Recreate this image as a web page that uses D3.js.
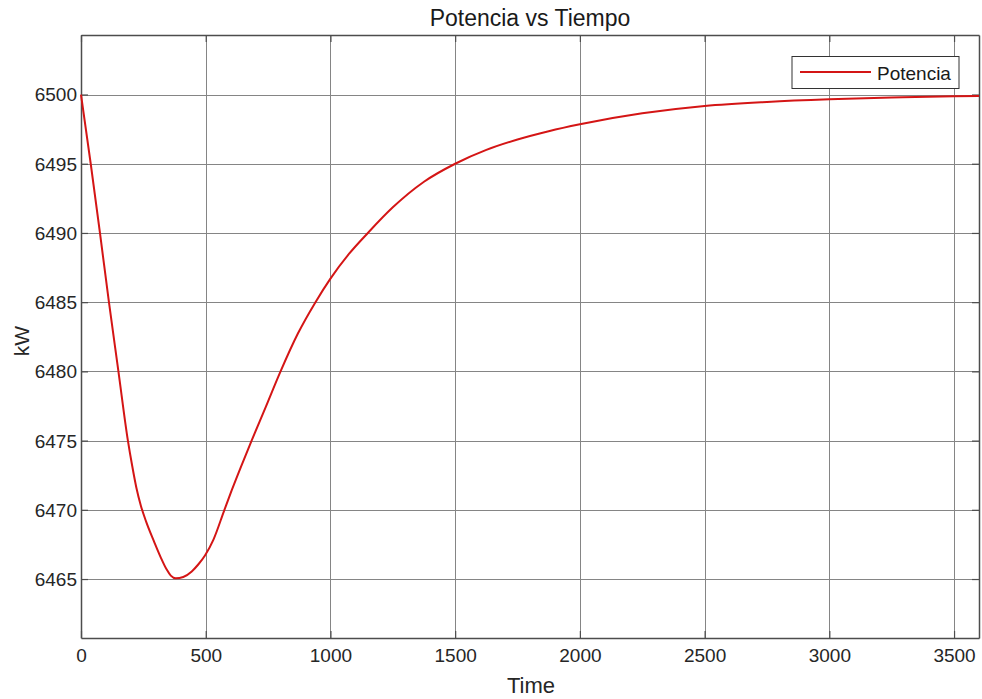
<!DOCTYPE html>
<html>
<head>
<meta charset="utf-8">
<script src="https://cdn.jsdelivr.net/npm/d3@7/dist/d3.min.js"></script>
<style>
  html, body { margin: 0; padding: 0; background: #fff; }
  svg { display: block; font-family: "Liberation Sans", Arial, Helvetica, sans-serif; }
</style>
</head>
<body>
<svg id="chart" width="982" height="699"></svg>
<script>
// Power response over time (kW)
const time = [0, 39, 76, 112, 150, 188, 205, 222, 240, 260, 293, 320, 343, 360, 380, 410, 444, 470, 497, 531, 575, 604, 640, 684, 740, 800, 870, 940, 1000, 1075, 1150, 1250, 1375, 1500, 1625, 1750, 1875, 2000, 2250, 2500, 2750, 3000, 3250, 3500, 3600];
const potencia = [6500, 6495, 6490, 6485, 6480, 6475, 6473.2, 6471.6, 6470.3, 6469.2, 6467.7, 6466.55, 6465.7, 6465.25, 6465.05, 6465.15, 6465.55, 6466.05, 6466.7, 6467.85, 6470, 6471.4, 6473.05, 6475, 6477.4, 6480, 6482.75, 6485, 6486.7, 6488.5, 6490, 6491.85, 6493.7, 6495, 6496, 6496.75, 6497.35, 6497.85, 6498.64, 6499.17, 6499.46, 6499.65, 6499.78, 6499.88, 6499.9];
const xTicks = [0, 500, 1000, 1500, 2000, 2500, 3000, 3500];
const yTicks = [6465, 6470, 6475, 6480, 6485, 6490, 6495, 6500];
const xDomain = [0, 3600];
const yDomain = [6460.74, 6504.3];

const svg = d3.select("#chart");
const m = { left: 81, right: 979, top: 35, bottom: 638 };

const x = d3.scaleLinear().domain(xDomain).range([m.left, m.right]);
const y = d3.scaleLinear().domain(yDomain).range([m.bottom, m.top]);

const axisColor = "#4d4d4d";
const textColor = "#262626";
const font = '"Liberation Sans", Arial, sans-serif';

// Grid
const grid = svg.append("g");
grid.selectAll("line.gx").data(xTicks).join("line")
  .attr("x1", d => Math.round(x(d)) + 0.5).attr("x2", d => Math.round(x(d)) + 0.5)
  .attr("y1", m.top).attr("y2", m.bottom)
  .attr("stroke", "#858585").attr("stroke-width", 1);
grid.selectAll("line.gy").data(yTicks).join("line")
  .attr("y1", d => Math.round(y(d)) + 0.5).attr("y2", d => Math.round(y(d)) + 0.5)
  .attr("x1", m.left).attr("x2", m.right)
  .attr("stroke", "#858585").attr("stroke-width", 1);

// Axes (ticks pointing inward, box on all sides)
const tickLen = 7;
const axB = svg.append("g").attr("transform", `translate(0,${m.bottom})`)
  .call(d3.axisBottom(x).tickValues(xTicks).tickSizeInner(-tickLen).tickSizeOuter(0).tickFormat(d3.format("d")));
const axT = svg.append("g").attr("transform", `translate(0,${m.top})`)
  .call(d3.axisTop(x).tickValues(xTicks).tickSizeInner(-tickLen).tickSizeOuter(0).tickFormat(""));
const axL = svg.append("g").attr("transform", `translate(${m.left},0)`)
  .call(d3.axisLeft(y).tickValues(yTicks).tickSizeInner(-tickLen).tickSizeOuter(0).tickFormat(d3.format("d")));
const axR = svg.append("g").attr("transform", `translate(${m.right},0)`)
  .call(d3.axisRight(y).tickValues(yTicks).tickSizeInner(-tickLen).tickSizeOuter(0).tickFormat(""));

[axB, axT, axL, axR].forEach(a => {
  a.select(".domain").attr("stroke", axisColor).attr("stroke-width", 1.5);
  a.selectAll(".tick line").attr("stroke", axisColor).attr("stroke-width", 1.2);
  a.selectAll(".tick text").attr("fill", textColor).attr("font-size", 19).attr("font-family", font);
});
axB.selectAll(".tick text").attr("y", 11).attr("dy", "0.71em");
axL.selectAll(".tick text").attr("x", -4).attr("dy", "0.34em");

// Data line
const line = d3.line()
  .x((d, i) => x(time[i]))
  .y(d => y(d))
  .curve(d3.curveMonotoneX);
svg.append("path")
  .datum(potencia)
  .attr("d", line)
  .attr("fill", "none")
  .attr("stroke", "#d41515")
  .attr("stroke-width", 2);

// Title and axis labels
svg.append("text")
  .attr("x", 530).attr("y", 26)
  .attr("text-anchor", "middle")
  .attr("font-size", 23).attr("fill", "#1a1a1a")
  .text("Potencia vs Tiempo");
svg.append("text")
  .attr("x", 531).attr("y", 693)
  .attr("text-anchor", "middle")
  .attr("font-size", 22).attr("fill", textColor)
  .text("Time");
svg.append("text")
  .attr("transform", "translate(29,341) rotate(-90)")
  .attr("text-anchor", "middle")
  .attr("font-size", 21).attr("fill", textColor)
  .text("kW");

// Legend
const lg = svg.append("g");
lg.append("rect")
  .attr("x", 792).attr("y", 56.5).attr("width", 167).attr("height", 32)
  .attr("fill", "#fff").attr("stroke", "#333").attr("stroke-width", 1);
lg.append("line")
  .attr("x1", 800).attr("x2", 871).attr("y1", 72).attr("y2", 72)
  .attr("stroke", "#d41515").attr("stroke-width", 2);
lg.append("text")
  .attr("x", 877).attr("y", 80)
  .attr("font-size", 19).attr("fill", "#1a1a1a")
  .text("Potencia");
</script>
</body>
</html>
